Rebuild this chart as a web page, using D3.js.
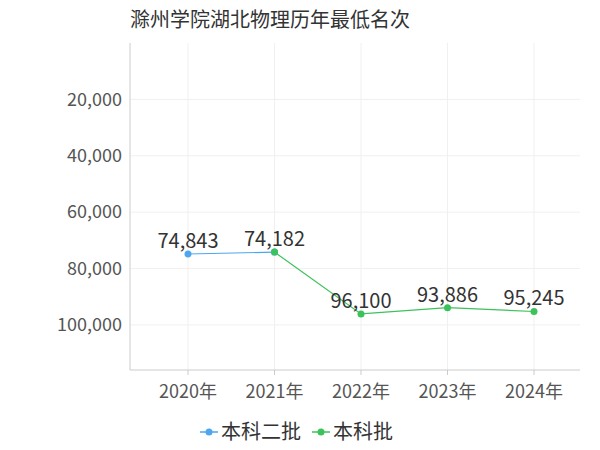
<!DOCTYPE html><html><head><meta charset="utf-8">
<script src="https://cdn.jsdelivr.net/npm/d3@7"></script>
<style>body{margin:0;background:#fff;font-family:"Noto Sans CJK SC","Noto Sans",sans-serif}</style></head><body>
<svg id="c" width="600" height="450"></svg>
<script>
const categories=["2020年","2021年","2022年","2023年","2024年"];
const seriesNames=["本科二批","本科批"];
const erpi=[74843,74182,null,null,null];
const benke=[null,74182,96100,93886,95245];
const labels=[74843,74182,96100,93886,95245];
const yTicks=[20000,40000,60000,80000,100000];
const colors=["#4da6f0","#3cc25a"];
const svg=d3.select("#c");
const L=130,R=580,T=43,B=370;
const x=d3.scalePoint().domain(categories).range([188,534]);
const y=d3.scaleLinear().domain([0,116000]).range([T,B]);
svg.append("text").attr("x",130).attr("y",27).attr("font-size",20).attr("fill","#333").text("滁州学院湖北物理历年最低名次");
const g=svg.append("g");
g.selectAll(".hg").data(yTicks).join("line").attr("x1",L).attr("x2",R).attr("y1",d=>y(d)).attr("y2",d=>y(d)).attr("stroke","#f0f0f0");
g.selectAll(".vg").data(categories).join("line").attr("x1",d=>x(d)).attr("x2",d=>x(d)).attr("y1",T).attr("y2",B).attr("stroke","#f0f0f0");
g.append("line").attr("x1",L).attr("x2",L).attr("y1",T).attr("y2",B).attr("stroke","#ccc");
g.append("line").attr("x1",L).attr("x2",R).attr("y1",B).attr("y2",B).attr("stroke","#ccc");
const fmt=d3.format(",");
g.selectAll(".yt").data(yTicks).join("text").attr("x",L-8).attr("y",d=>y(d)).attr("dy","0.35em").attr("text-anchor","end").attr("font-size",18).attr("fill","#555").text(fmt);
g.selectAll(".xt").data(categories).join("text").attr("x",d=>x(d)).attr("y",B+28).attr("text-anchor","middle").attr("font-size",18).attr("fill","#555").text(d=>d);
g.selectAll(".xk").data(categories).join("line").attr("x1",d=>x(d)).attr("x2",d=>x(d)).attr("y1",B).attr("y2",B+5).attr("stroke","#ccc");
[erpi,benke].forEach((s,i)=>{
  const pts=categories.map((c,j)=>[c,s[j]]).filter(p=>p[1]!=null);
  g.append("path").attr("d",d3.line().x(p=>x(p[0])).y(p=>y(p[1]))(pts)).attr("fill","none").attr("stroke",colors[i]).attr("stroke-width",1.2);
  g.selectAll(null).data(pts).join("circle").attr("cx",p=>x(p[0])).attr("cy",p=>y(p[1])).attr("r",3.5).attr("fill",colors[i]);
});
g.selectAll(".lb").data(labels).join("text").attr("x",(d,i)=>x(categories[i])).attr("y",d=>y(d)-6).attr("text-anchor","middle").attr("font-size",20).attr("fill","#333").text(fmt);
const lg=svg.append("g");
const lx=[200,312];
seriesNames.forEach((n,i)=>{
  lg.append("line").attr("x1",lx[i]).attr("x2",lx[i]+18).attr("y1",432).attr("y2",432).attr("stroke",colors[i]).attr("stroke-width",1.5);
  lg.append("circle").attr("cx",lx[i]+9).attr("cy",432).attr("r",3.5).attr("fill",colors[i]);
  lg.append("text").attr("x",lx[i]+21).attr("y",432).attr("dy","0.35em").attr("font-size",20).attr("fill","#333").text(n);
});
</script></body></html>
